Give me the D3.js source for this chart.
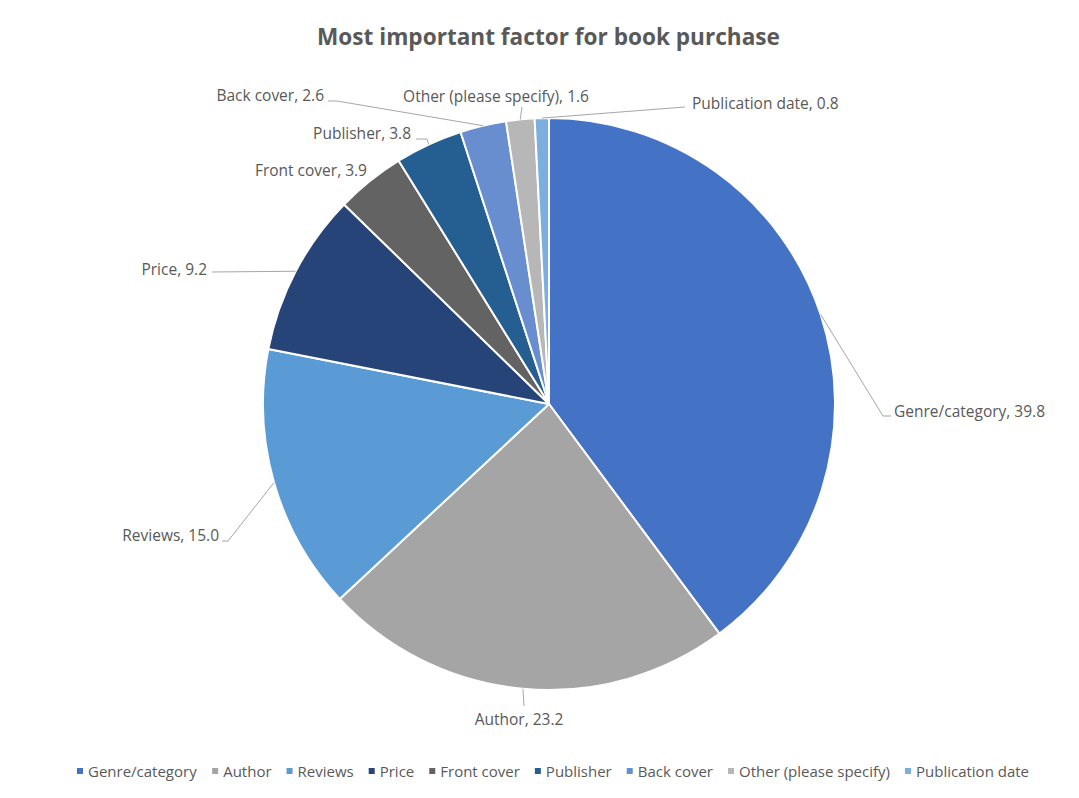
<!DOCTYPE html>
<html>
<head>
<meta charset="utf-8">
<script src="https://cdn.jsdelivr.net/npm/d3@7"></script>
<style>
  html, body { margin: 0; padding: 0; background: #fff; }
  svg { display: block; font-family: "Open Sans", Lato, sans-serif; }
</style>
</head>
<body>
<svg id="chart" width="1079" height="798"></svg>
<script>
// Survey answers: most important factor when buying a book (% of respondents)
const categories = ["Genre/category", "Author", "Reviews", "Price", "Front cover",
                    "Publisher", "Back cover", "Other (please specify)", "Publication date"];
const values = [39.8, 23.2, 15.0, 9.2, 3.9, 3.8, 2.6, 1.6, 0.8];
const colors = ["#4472C4", "#A5A5A5", "#5B9BD5", "#264478", "#636363",
                "#255E91", "#698ED0", "#B7B7B7", "#7CAFDD"];

// Label placement, offsets from the pie centre: text anchor, text point, leader elbow and end
const labelLayout = [
  { anchor: "start",  tx: 345, ty: 7,    elbow: [334, 12],  end: [342, 12] },
  { anchor: "middle", tx: -30, ty: 315,  elbow: [-25, 302], end: null },
  { anchor: "end",    tx: -330, ty: 131, elbow: [-321, 137], end: [-327, 137] },
  { anchor: "end",    tx: -342, ty: -135, elbow: [-337, -132], end: null },
  { anchor: "end",    tx: -182, ty: -234, elbow: null, end: null },
  { anchor: "end",    tx: -138, ty: -271, elbow: [-122, -265], end: [-133, -265] },
  { anchor: "end",    tx: -225, ty: -309, elbow: [-212, -303], end: [-221, -303] },
  { anchor: "middle", tx: -53, ty: -308, elbow: [-27, -297], end: null },
  { anchor: "start",  tx: 143, ty: -301, elbow: [136, -297], end: null }
];

const W = 1079, H = 798;
const cx = 549, cy = 404, r = 286;
const svg = d3.select("#chart");

svg.append("text")
  .attr("x", W / 2 + 9).attr("y", 36)
  .attr("text-anchor", "middle").attr("dominant-baseline", "central")
  .attr("font-size", 22.6).attr("font-weight", 700).attr("fill", "#595959")
  .text("Most important factor for book purchase");

const data = categories.map((c, i) => ({ name: c, value: values[i], color: colors[i], layout: labelLayout[i] }));

const pie = d3.pie().value(d => d.value).sort(null);
const arcs = pie(data);
const arc = d3.arc().innerRadius(0).outerRadius(r);
const edge = d3.arc().innerRadius(r).outerRadius(r);

const g = svg.append("g").attr("transform", `translate(${cx},${cy})`);

g.selectAll("path.slice").data(arcs).join("path")
  .attr("class", "slice")
  .attr("d", arc)
  .attr("fill", d => d.data.color)
  .attr("stroke", "#fff").attr("stroke-width", 2).attr("stroke-linejoin", "round");

// Leader lines from the slice rim to each label
g.selectAll("path.leader").data(arcs.filter(d => d.data.layout.elbow)).join("path")
  .attr("class", "leader")
  .attr("fill", "none").attr("stroke", "#A6A6A6").attr("stroke-width", 1)
  .attr("d", d => {
    const p = edge.centroid(d);
    const L = d.data.layout;
    const pts = [p, L.elbow];
    if (L.end) pts.push(L.end);
    return d3.line()(pts);
  });

g.selectAll("text.lbl").data(arcs).join("text")
  .attr("class", "lbl")
  .attr("x", d => d.data.layout.tx).attr("y", d => d.data.layout.ty)
  .attr("text-anchor", d => d.data.layout.anchor)
  .attr("dominant-baseline", "central")
  .attr("font-size", 15.5).attr("fill", "#595959")
  .text(d => `${d.data.name}, ${d3.format(".1f")(d.data.value)}`);

// Legend row along the bottom, centred under the chart
const legend = svg.append("g");
const items = legend.selectAll("g").data(data).join("g");
items.append("rect").attr("width", 6).attr("height", 6).attr("y", -3).attr("fill", d => d.color);
items.append("text").attr("x", 11).attr("dominant-baseline", "central")
  .attr("font-size", 15).attr("fill", "#595959").text(d => d.name);
let xpos = 0;
items.each(function () {
  const w = this.getBBox().width;
  d3.select(this).attr("transform", `translate(${xpos},0)`);
  xpos += w + 15;
});
const total = xpos - 15;
legend.attr("transform", `translate(${553 - total / 2},771)`);
</script>
</body>
</html>
